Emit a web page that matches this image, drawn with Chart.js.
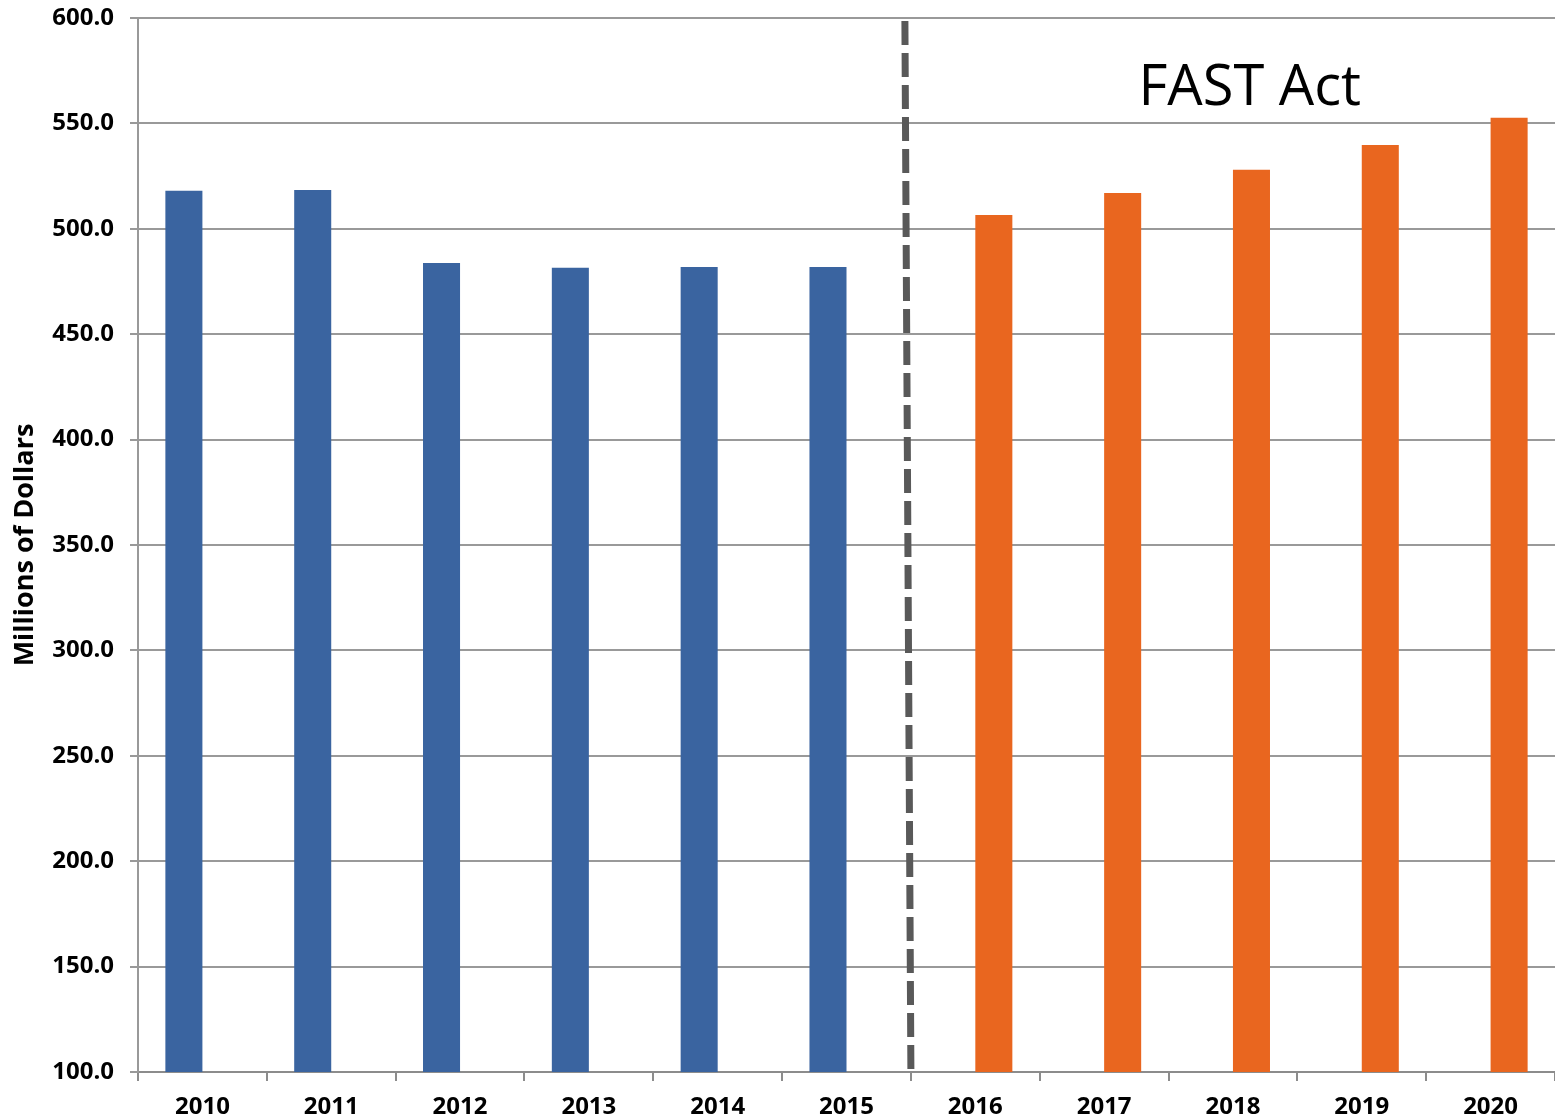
<!DOCTYPE html>
<html>
<head>
<meta charset="utf-8">
<script src="https://cdn.jsdelivr.net/npm/chart.js@4/dist/chart.umd.min.js"></script>
<style>
  html, body { margin: 0; padding: 0; background: #fff; }
  #wrap { width: 1555px; height: 1117px; position: relative; }
</style>
</head>
<body>
<div id="wrap"><canvas id="c" width="1555" height="1117"></canvas></div>
<script>
const years = ['2010','2011','2012','2013','2014','2015','2016','2017','2018','2019','2020'];
const priorValues = [518.0, 518.4, 483.8, 481.5, 481.9, 481.9, null, null, null, null, null];
const fastActValues = [null, null, null, null, null, null, 506.6, 517.0, 528.0, 539.8, 552.7];
const yTicks = [100, 150, 200, 250, 300, 350, 400, 450, 500, 550, 600];
const annotationText = 'FAST Act';
const axisTitle = 'Millions of Dollars';

const dividerPlugin = {
  id: 'divider',
  afterDatasetsDraw(chart) {
    const ctx = chart.ctx;
    const x = chart.scales.x;
    const y = chart.scales.y;
    const area = chart.chartArea;
    const xb = (x.getPixelForValue(5) + x.getPixelForValue(6)) / 2;
    ctx.save();
    ctx.strokeStyle = '#595959';
    ctx.lineWidth = 7;
    ctx.setLineDash([24, 8]);
    ctx.beginPath();
    ctx.moveTo(xb - 6, area.top + 3);
    ctx.lineTo(xb, area.bottom);
    ctx.stroke();
    ctx.setLineDash([]);
    // annotation text
    const step = x.getPixelForValue(9) - x.getPixelForValue(8);
    const tx = x.getPixelForValue(8) + step * 0.13;
    const ty = y.getPixelForValue(566.5);
    ctx.fillStyle = '#000';
    ctx.font = '56px "Open Sans"';
    ctx.textAlign = 'center';
    ctx.textBaseline = 'middle';
    ctx.fillText(annotationText, tx, ty);
    ctx.restore();
  }
};

new Chart(document.getElementById('c'), {
  type: 'bar',
  data: {
    labels: years,
    datasets: [
      { label: 'Prior', data: priorValues, backgroundColor: '#3A64A0', borderWidth: 0 },
      { label: 'FAST Act', data: fastActValues, backgroundColor: '#E9661F', borderWidth: 0 }
    ]
  },
  options: {
    responsive: false,
    animation: false,
    devicePixelRatio: 1,
    categoryPercentage: 0.575,
    barPercentage: 1.0,
    layout: { padding: { top: 18, right: -4, left: 0, bottom: 0 } },
    plugins: {
      legend: { display: false },
      tooltip: { enabled: false },
      title: { display: false }
    },
    scales: {
      x: {
        offset: true,
        grid: {
          offset: true,
          drawOnChartArea: false,
          drawTicks: true,
          tickLength: 9,
          color: '#8c8c8c',
          lineWidth: 2
        },
        border: { display: true, color: '#8c8c8c', width: 2 },
        ticks: {
          color: '#000',
          font: { family: 'Open Sans', weight: 'bold', size: 24 },
          padding: 12,
          maxRotation: 0,
          autoSkip: false
        },
        afterFit(scale) {
          scale.height = 45;
          scale.paddingLeft = 0; scale.paddingRight = 0;
        }
      },
      y: {
        min: 100,
        max: 600,
        afterBuildTicks(scale) { scale.ticks = yTicks.map(v => ({ value: v })); },
        grid: {
          color: '#999999',
          lineWidth: 2,
          drawTicks: true,
          tickLength: 8
        },
        border: { display: true, color: '#999999', width: 2 },
        ticks: {
          color: '#000',
          font: { family: 'Open Sans', weight: 'bold', size: 24 },
          padding: 16,
          callback: v => Number(v).toFixed(1)
        },
        title: {
          display: true,
          text: axisTitle,
          color: '#000',
          font: { family: 'Open Sans', weight: 'bold', size: 27 },
          padding: { top: 9, bottom: 0 }
        },
        afterFit(scale) {
          scale.width = 138;
          scale.paddingTop = 0; scale.paddingBottom = 0;
        }
      }
    }
  },
  plugins: [dividerPlugin]
});
</script>
</body>
</html>
